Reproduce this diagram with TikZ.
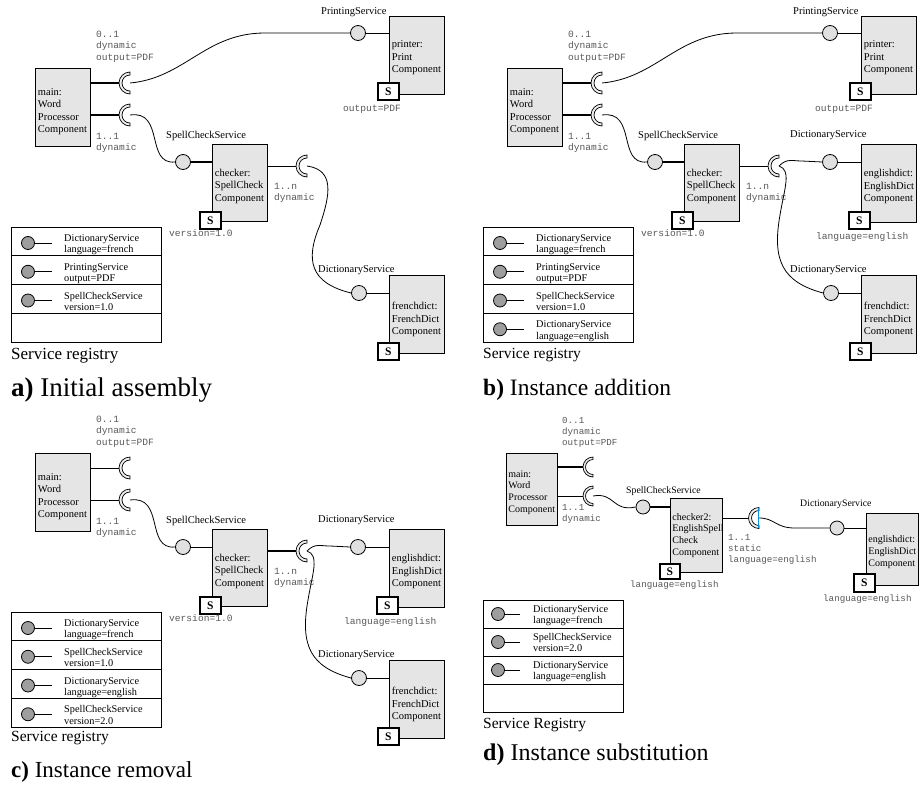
\documentclass[tikz,border=0pt]{standalone}
\usepackage{fontspec}
\setmainfont{Liberation Serif}
\setmonofont{Liberation Mono}
\usetikzlibrary{calc}
\hyphenpenalty=10000
\exhyphenpenalty=10000
\definecolor{compfill}{gray}{0.9}
\definecolor{lolfill}{gray}{0.88}
\definecolor{regfill}{gray}{0.62}
\definecolor{monogray}{gray}{0.35}
\tikzset{
 comp/.style={draw, line width=0.9pt, fill=compfill, anchor=north west, minimum width=55pt, minimum height=78pt, text width=50pt, inner xsep=2.5pt, inner ysep=2pt, align=left, font=\fontsize{10.5}{12.5}\selectfont},
 sbox/.style={draw, line width=1.6pt, fill=white, minimum width=21pt, minimum height=17pt, inner sep=0pt, anchor=north west, font=\bfseries\fontsize{11.5}{12}\selectfont},
 lolli/.style={circle, draw, line width=0.8pt, fill=lolfill, minimum size=15pt, inner sep=0pt},
 reglolli/.style={circle, draw, line width=0.8pt, fill=regfill, minimum size=13pt, inner sep=0pt},
 svc/.style={anchor=base west, inner sep=0pt, font=\fontsize{10.5}{12}\selectfont},
 mono/.style={anchor=base west, inner sep=0pt, align=left, text=monogray, font=\ttfamily\fontsize{9.6}{11.5}\selectfont},
 regtxt/.style={anchor=base west, inner sep=0pt, align=left, font=\fontsize{10.3}{11.3}\selectfont},
 wire/.style={line width=0.8pt},
 bindthin/.style={line width=0.9pt},
 bindthick/.style={line width=1.8pt},
 cupst/.style={draw, line width=0.7pt, fill=gray!15},
 regframe/.style={draw, line width=0.9pt, anchor=north west, inner sep=0pt},
 regname/.style={anchor=base west, inner sep=0pt, font=\fontsize{15.5}{18}\selectfont},
 capt/.style={anchor=base west, inner sep=0pt, font=\fontsize{23}{26}\selectfont},
}
\newcommand{\sk}[1]{\rule{0pt}{#1pt}}
% receptacle: name, x, y, outer radius, inner radius
\newcommand{\rcpt}[5]{%
 \coordinate (#1) at (#2,#3);
 \draw[cupst] (#2,{#3-#4}) arc[start angle=270,end angle=90,radius=#4] -- ++(0,{-(#4-#5)}) arc[start angle=90,end angle=270,radius=#5] -- cycle;}
% main component with its two receptacles
\newcommand{\mainpart}[3]{%
 \node[comp] (#1main) at (35,68) {\sk{15}main:\\Word\\Processor\\Component};
 \node[mono] (#1l01) at (96,60) {0..1\\dynamic\\output=PDF};
 \node[mono] (#1l11) at (96,150.5) {1..1\\dynamic};
 \draw[#2] (#1main.east |- 0,83) -- (119,83);
 \draw[#3] (#1main.east |- 0,115) -- (119,115);
 \rcpt{#1cupA}{130}{83}{11}{8}
 \rcpt{#1cupB}{130}{115}{11}{8}}
\newcommand{\checkerpart}[3]{%
 \node[lolli] (#1sc) at (183,162) {};
 \node[svc] (#1scl) at (166,138.5) {SpellCheckService};
 \node[comp, minimum height=77pt] (#1checker) at (212,144) {\sk{14}checker:\\SpellCheck\\Component};
 \node[sbox] (#1checkerS) at (199,211) {S};
 \node[mono] (#1ver) at (169,236) {version=1.0};
 \draw[#2] (#1sc.east) -- (#1sc.east -| #1checker.west);
 \node[mono] (#1l1n) at (274,200.5) {1..n\\dynamic};
 \draw[#3] (#1checker.east |- 0,166) -- (296,166);
 \rcpt{#1cupC}{307}{166}{11}{8}
 \draw[wire] (#1cupB) .. controls (165,110) and (145,165) .. (#1sc.west);}
\newcommand{\frenchpart}[1]{%
 \node[lolli] (#1fd) at (359,293) {};
 \node[svc] (#1fdl) at (318,272) {DictionaryService};
 \node[comp] (#1french) at (389,275) {\sk{18}frenchdict:\\FrenchDict\\Component};
 \node[sbox] (#1frenchS) at (377,342) {S};
 \draw[bindthin] (#1fd.east) -- (#1fd.east -| #1french.west);}
\newcommand{\englishpart}[1]{%
 \node[lolli] (#1ed) at (358,162) {};
 \node[svc] (#1edl) at (318,137.5) {DictionaryService};
 \node[comp] (#1english) at (389,144) {\sk{14}englishdict:\\EnglishDict\\Component};
 \node[sbox] (#1englishS) at (376,211) {S};
 \node[mono] (#1lang) at (344,239.5) {language=english};
 \draw[bindthin] (#1ed.east) -- (#1ed.east -| #1english.west);}
\newcommand{\regframe}[1]{%
 \node[regframe, minimum width=150pt, minimum height=115pt] (#1reg) at (11,227) {};
 \foreach \k in {1,2,3} {\draw[line width=0.9pt] (11,{227+28.75*\k}) -- (161,{227+28.75*\k});}}
\newcommand{\regrow}[4]{%
 \node[reglolli] (#1c) at (28,{#2+16}) {};
 \draw[wire] (#1c.east) -- (52,{#2+16});
 \node[regtxt] (#1t) at (64,{#2+25.8}) {#3\\#4};}
\begin{document}
\begin{tikzpicture}[x=1pt,y=-1pt]
\useasboundingbox (0,0) rectangle (920,787);
\fill[white] (0,0) rectangle (920,787);
% ---------------- a
\begin{scope}
 \mainpart{a-}{bindthick}{bindthick}
 \checkerpart{a-}{bindthick}{bindthin}
 \frenchpart{a-}
 \node[lolli] (a-ps) at (358,33) {};
 \node[svc] (a-psl) at (321,14.5) {PrintingService};
 \node[comp] (a-printer) at (389,16) {\sk{12}printer:\\Print\\Component};
 \node[sbox] (a-printerS) at (377,82) {S};
 \node[mono] (a-out) at (343,111) {output=PDF};
 \draw[bindthin] (a-ps.east) -- (a-ps.east -| a-printer.west);
 \draw[wire] (a-cupA) .. controls (185,78) and (205,33) .. (265,33) -- (a-ps.west);
 \draw[wire] (a-cupC) .. controls (335,170) and (330,195) .. (320,225) .. controls (305,260) and (310,283) .. (a-fd.west);
 \regframe{a-}
 \regrow{a-r1}{227}{DictionaryService}{language=french}
 \regrow{a-r2}{255.75}{PrintingService}{output=PDF}
 \regrow{a-r3}{284.5}{SpellCheckService}{version=1.0}
 \node[regname, font=\fontsize{17}{19}\selectfont] (a-regname) at (11,359) {Service registry};
 \node[capt, font=\fontsize{27}{30}\selectfont] (a-cap) at (11,396) {\textbf{a)} Initial assembly};
\end{scope}
% ---------------- b
\begin{scope}[shift={(472,0)}]
 \mainpart{b-}{bindthick}{bindthick}
 \checkerpart{b-}{bindthick}{bindthin}
 \frenchpart{b-}
 \englishpart{b-}
 \node[lolli] (b-ps) at (358,33) {};
 \node[svc] (b-psl) at (321,14.5) {PrintingService};
 \node[comp] (b-printer) at (389,16) {\sk{12}printer:\\Print\\Component};
 \node[sbox] (b-printerS) at (377,82) {S};
 \node[mono] (b-out) at (343,111) {output=PDF};
 \draw[bindthin] (b-ps.east) -- (b-ps.east -| b-printer.west);
 \draw[wire] (b-cupA) .. controls (185,78) and (205,33) .. (265,33) -- (b-ps.west);
 \draw[wire] (b-cupC) .. controls (315,158) and (320,161) .. (330,161) -- (b-ed.west);
 \draw[wire] (b-cupC) .. controls (320,170) and (312,190) .. (308,215) .. controls (300,260) and (310,282) .. (b-fd.west);
 \regframe{b-}
 \regrow{b-r1}{227}{DictionaryService}{language=french}
 \regrow{b-r2}{255.75}{PrintingService}{output=PDF}
 \regrow{b-r3}{284.5}{SpellCheckService}{version=1.0}
 \regrow{b-r4}{313.25}{DictionaryService}{language=english}
 \node[regname] (b-regname) at (11,358) {Service registry};
 \node[capt, font=\fontsize{23.5}{26}\selectfont] (b-cap) at (11,395) {\textbf{b)} Instance addition};
\end{scope}
% ---------------- c
\begin{scope}[shift={(0,385)}]
 \mainpart{c-}{bindthin}{bindthin}
 \checkerpart{c-}{bindthin}{bindthick}
 \frenchpart{c-}
 \englishpart{c-}
 \draw[wire] (c-cupC) .. controls (315,158) and (320,161) .. (330,161) -- (c-ed.west);
 \draw[wire] (c-cupC) .. controls (320,170) and (312,190) .. (308,215) .. controls (300,260) and (310,282) .. (c-fd.west);
 \regframe{c-}
 \regrow{c-r1}{227}{DictionaryService}{language=french}
 \regrow{c-r2}{255.75}{SpellCheckService}{version=1.0}
 \regrow{c-r3}{284.5}{DictionaryService}{language=english}
 \regrow{c-r4}{313.25}{SpellCheckService}{version=2.0}
 \node[regname] (c-regname) at (11,356) {Service registry};
 \node[capt] (c-cap) at (11,392) {\textbf{c)} Instance removal};
\end{scope}
% ---------------- d
\begin{scope}
 \tikzset{dcomp/.style={comp, minimum width=51pt, minimum height=72pt, text width=47pt, inner xsep=2pt, font=\fontsize{10}{11.8}\selectfont},
  dsvc/.style={svc, font=\fontsize{9.8}{11}\selectfont},
  dmono/.style={mono, font=\ttfamily\fontsize{9.2}{11.2}\selectfont}}
 \node[dcomp] (d-main) at (506,453) {\sk{13}main:\\Word\\Processor\\Component};
 \node[dmono] (d-l01) at (562,445.4) {0..1\\dynamic\\output=PDF};
 \node[dmono] (d-l11) at (562,521.2) {1..1\\dynamic};
 \draw[bindthick] (d-main.east |- 0,467) -- (583,467);
 \draw[bindthin] (d-main.east |- 0,496) -- (583,496);
 \rcpt{d-cupA}{593}{467}{10}{7.5}
 \rcpt{d-cupB}{593}{496}{10}{7.5}
 \node[lolli, minimum size=14pt] (d-sc) at (643,507) {};
 \node[dsvc] (d-scl) at (626,493) {SpellCheckService};
 \node[dcomp, minimum width=52pt, minimum height=74pt, text width=48pt] (d-checker) at (670,498) {checker2:\\EnglishSpell\\Check\\Component};
 \node[sbox, minimum width=20pt, minimum height=15pt] (d-checkerS) at (659,563) {S};
 \node[dmono] (d-lang1) at (630,587) {language=english};
 \draw[bindthick] (d-sc.east) -- (d-sc.east -| d-checker.west);
 \draw[wire] (d-cupB) .. controls (615,492) and (612,512) .. (d-sc.west);
 \draw[bindthin] (d-checker.east |- 0,518) -- (748.5,518);
 \rcpt{d-cupC}{759}{518}{10.5}{7.5}
 \draw[cyan!80!blue, line width=0.9pt] (758,508) -- (758,528);
 \node[dmono] (d-l11s) at (728,562.4) {1..1\\static\\language=english};
 \node[lolli, minimum size=14pt] (d-ed) at (837,528) {};
 \node[dsvc] (d-edl) at (800,506) {DictionaryService};
 \draw[wire] (d-cupC) .. controls (775,518) and (775,528) .. (795,528) -- (d-ed.west);
 \node[dcomp, minimum width=52pt, text width=48pt] (d-english) at (866,513) {\sk{12}englishdict:\\EnglishDict\\Component};
 \node[sbox, minimum width=21pt, minimum height=18pt] (d-englishS) at (853,573) {S};
 \node[dmono] (d-lang2) at (823,601) {language=english};
 \draw[bindthin] (d-ed.east) -- (d-ed.east -| d-english.west);
 \node[regframe, minimum width=140pt, minimum height=112pt] (d-reg) at (483,600) {};
 \foreach \k in {1,2,3} {\draw[line width=0.9pt] (483,{600+28*\k}) -- (623,{600+28*\k});}
 \node[reglolli] (d-r1c) at (498,614) {};
 \draw[wire] (d-r1c.east) -- (520,614);
 \node[regtxt] (d-r1t) at (533,623.3) {DictionaryService\\language=french};
 \node[reglolli] (d-r2c) at (498,642) {};
 \draw[wire] (d-r2c.east) -- (520,642);
 \node[regtxt] (d-r2t) at (533,651.3) {SpellCheckService\\version=2.0};
 \node[reglolli] (d-r3c) at (498,670) {};
 \draw[wire] (d-r3c.east) -- (520,670);
 \node[regtxt] (d-r3t) at (533,679.3) {DictionaryService\\language=english};
 \node[regname] (d-regname) at (483,728) {Service Registry};
 \node[capt, font=\fontsize{24}{27}\selectfont] (d-cap) at (483,760) {\textbf{d)} Instance substitution};
\end{scope}
\end{tikzpicture}
\end{document}
